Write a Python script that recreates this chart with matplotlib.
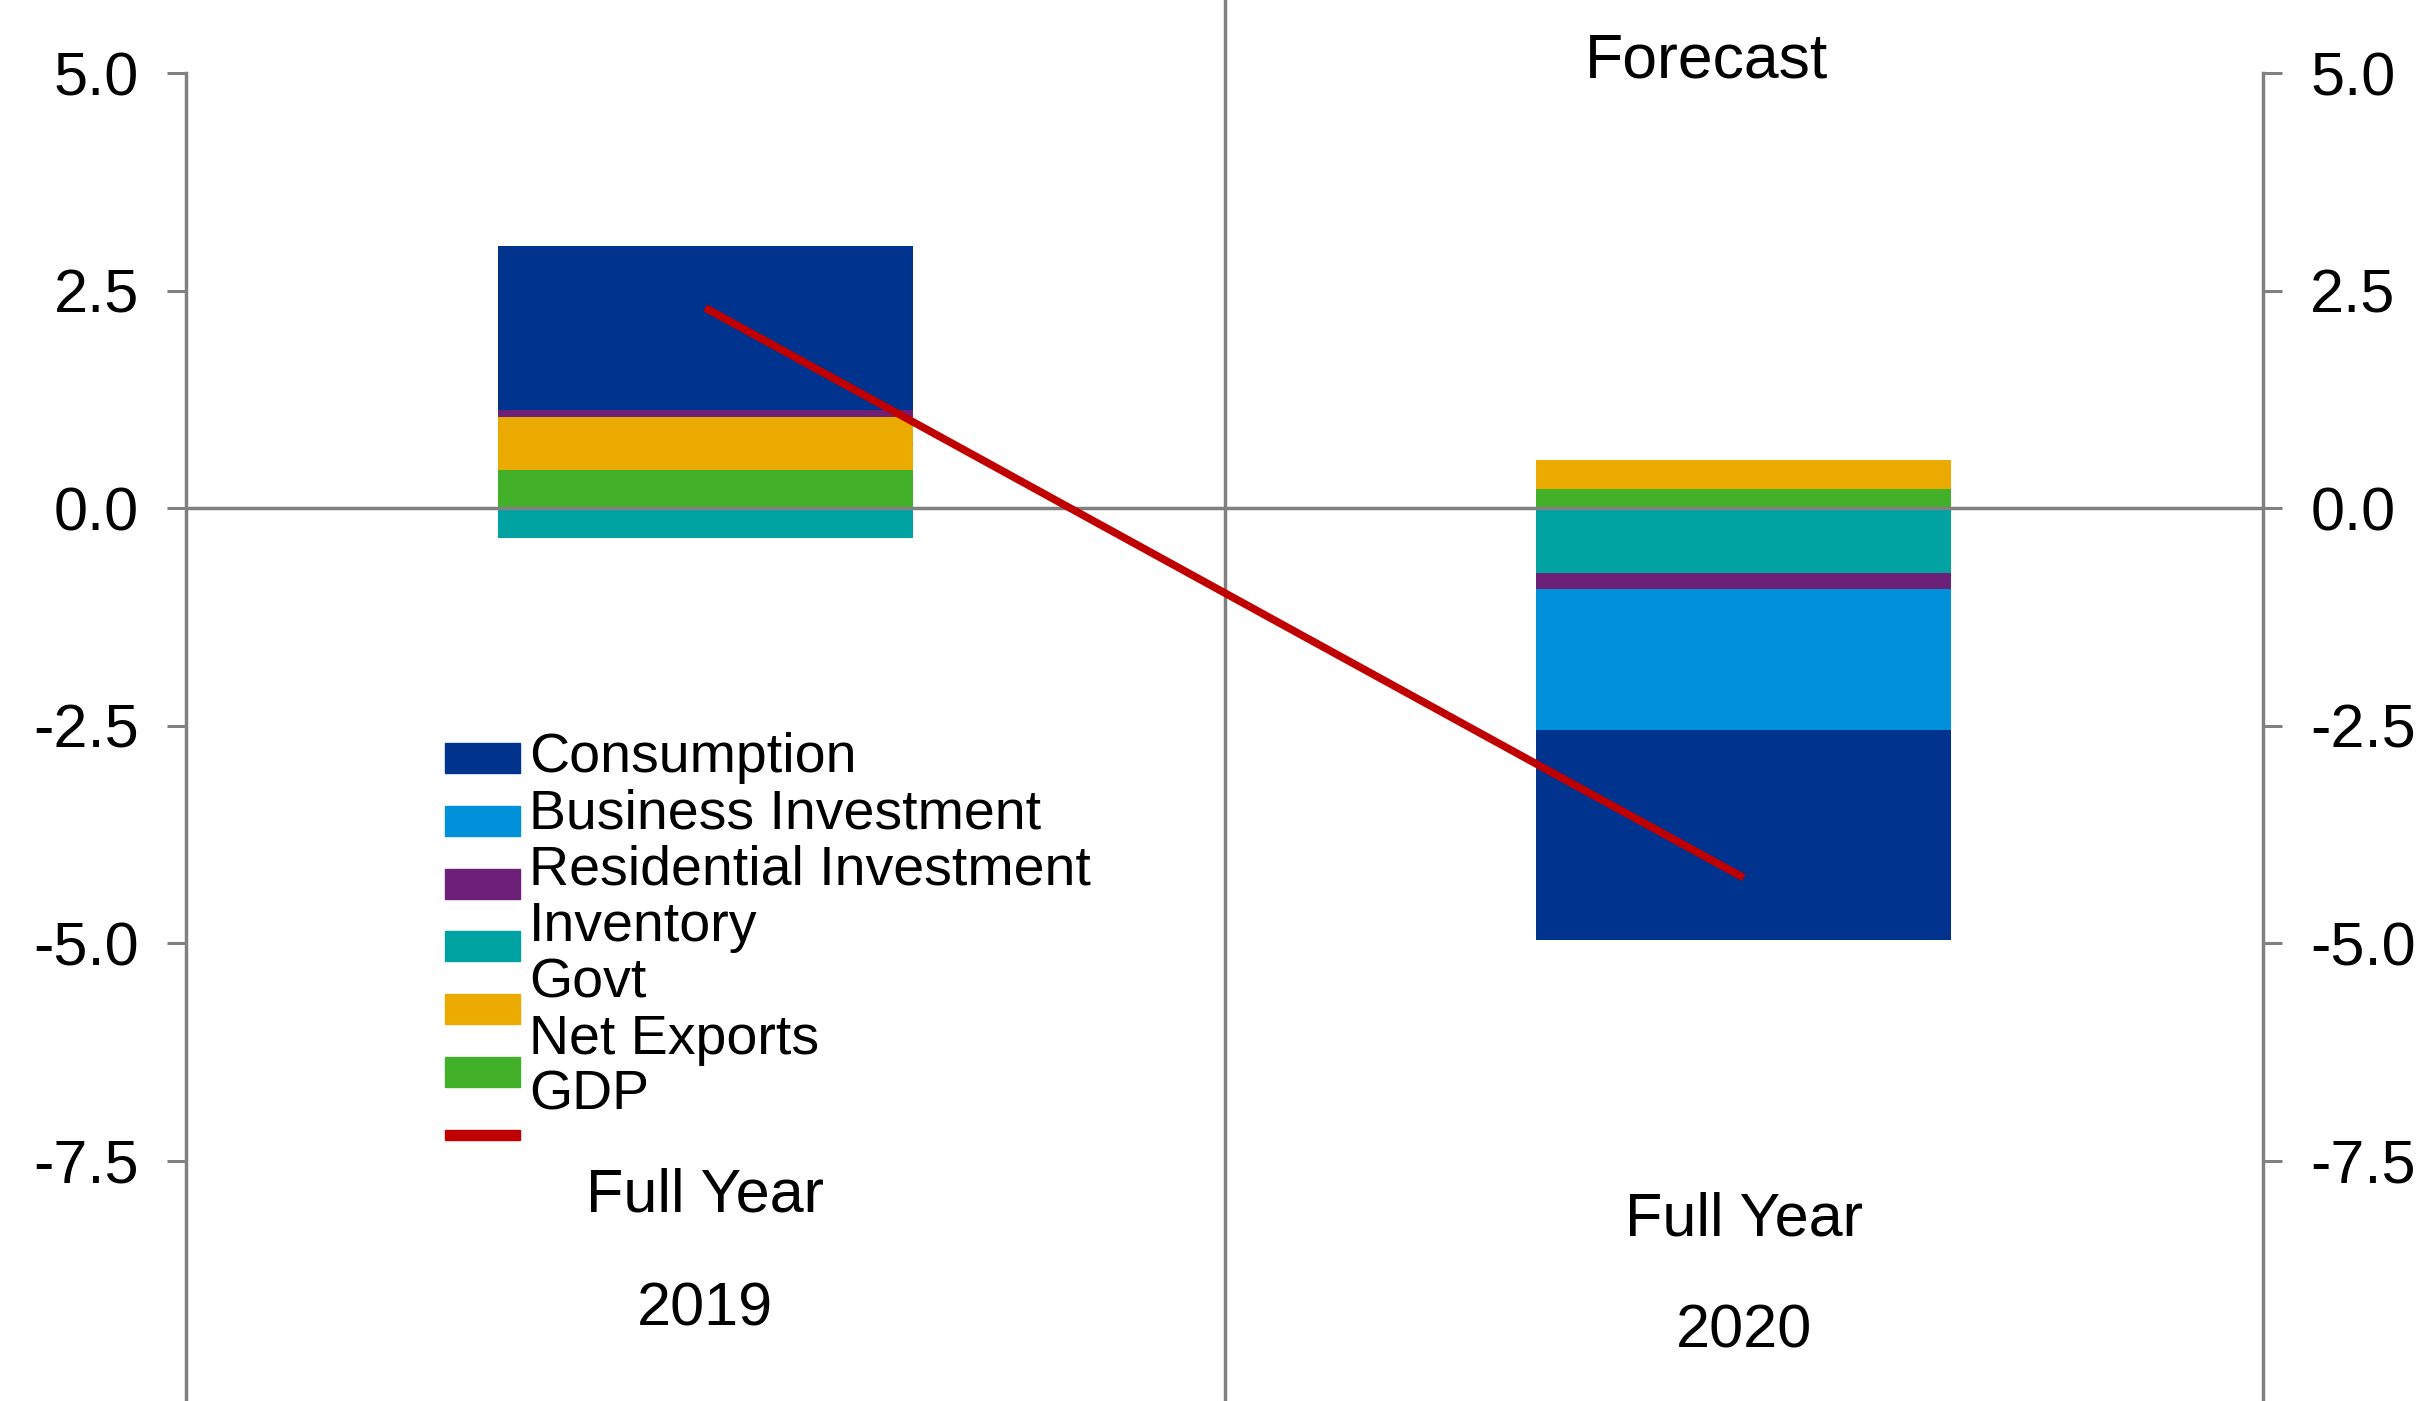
import matplotlib
matplotlib.use("Agg")
import matplotlib.pyplot as plt
from matplotlib.patches import Rectangle
from matplotlib.transforms import blended_transform_factory
import numpy as np

plt.rcParams['font.family'] = ['Liberation Sans', 'DejaVu Sans']
plt.rcParams['axes.unicode_minus'] = False

# contributions to GDP growth, percentage points
years = ['2019', '2020']
period_labels = ['Full Year', 'Full Year']
consumption = [1.88, -2.42]
business_inv = [0.0, -1.62]
residential_inv = [0.08, -0.18]
inventory = [-0.35, -0.75]
govt = [0.61, 0.33]
net_exports = [0.44, 0.22]
gdp = [2.3, -4.25]

series_names = ['Consumption', 'Business Investment', 'Residential Investment',
                'Inventory', 'Govt', 'Net Exports', 'GDP']
colors = ['#00338D', '#0091DA', '#6D2077', '#00A3A1', '#EAAA00', '#43B02A', '#C00000']
yticks = [5.0, 2.5, 0.0, -2.5, -5.0, -7.5]

W, H = 2432, 1401
grey = '#808080'


def fx(px):
    return px / W


def fy(py):
    return 1 - py / H


fig = plt.figure(figsize=(W / 100, H / 100), dpi=100)
# axes bottom runs past the bottom of the picture, as in the original
ymin, ymax = -11.0, 5.0
px_per_unit = 87.0
top_px = 73
ax_h = (ymax - ymin) * px_per_unit
ax = fig.add_axes([fx(186), fy(top_px + ax_h), fx(2263) - fx(186), ax_h / H])
ax.set_xlim(-0.5, 1.5)
ax.set_ylim(ymin, ymax)

x = np.arange(len(years))
components = [consumption, business_inv, residential_inv, inventory, govt, net_exports]

# stack from zero outward, net exports closest to zero
pos_bottom = np.zeros(len(years))
neg_bottom = np.zeros(len(years))
for vals, color in reversed(list(zip(components, colors[:6]))):
    vals = np.array(vals, dtype=float)
    bottom = np.where(vals >= 0, pos_bottom, neg_bottom)
    ax.bar(x, vals, width=0.4, bottom=bottom, color=color, zorder=2)
    pos_bottom = pos_bottom + np.clip(vals, 0, None)
    neg_bottom = neg_bottom + np.clip(vals, None, 0)

ax.axhline(0, color=grey, lw=2.5, zorder=3)
ax.plot(x, gdp, color=colors[6], lw=5.5, zorder=4, solid_capstyle='butt')

# separator between actual and forecast, runs to the top edge
ax.axvline(0.5, ymin=0, ymax=1 + top_px / ax_h, color=grey, lw=2.5,
           clip_on=False, zorder=3)

# spines and ticks
for side in ['top', 'bottom']:
    ax.spines[side].set_visible(False)
for side in ['left', 'right']:
    ax.spines[side].set_color(grey)
    ax.spines[side].set_linewidth(2.5)
ax.set_xticks([])
ax.set_yticks(yticks)
ax.set_yticklabels([f'{v:.1f}' for v in yticks])
ax.tick_params(axis='y', which='both', left=True, right=True, labelleft=True,
               labelright=True, direction='out', length=14, width=2.2,
               color=grey, labelsize=44, pad=20)

# category labels under each bar
trans = blended_transform_factory(ax.transData, fig.transFigure)
label_base = [(1212, 1325), (1235, 1348)]
for xi, per, yr, (b1, b2) in zip(x, period_labels, years, label_base):
    ax.text(xi, fy(b1), per, transform=trans, ha='center', va='baseline',
            fontsize=44, clip_on=False)
    ax.text(xi, fy(b2), yr, transform=trans, ha='center', va='baseline',
            fontsize=44, clip_on=False)

fig.text(fx(1706), fy(78), 'Forecast', ha='center', va='baseline', fontsize=45)

# legend drawn by hand: swatches and labels sit on slightly different pitches
for i, color in enumerate(colors):
    if i < 6:
        cy, hh = 758 + i * 62.8, 30
    else:
        cy, hh = 1135, 10
    fig.patches.append(Rectangle((fx(445), fy(cy + hh / 2)), fx(520) - fx(445), hh / H,
                                 transform=fig.transFigure, color=color))
for i, name in enumerate(series_names):
    fig.text(fx(529), fy(772 + i * 56.3), name, ha='left', va='baseline', fontsize=40)

fig.savefig('out.png', dpi=100, facecolor='white')
